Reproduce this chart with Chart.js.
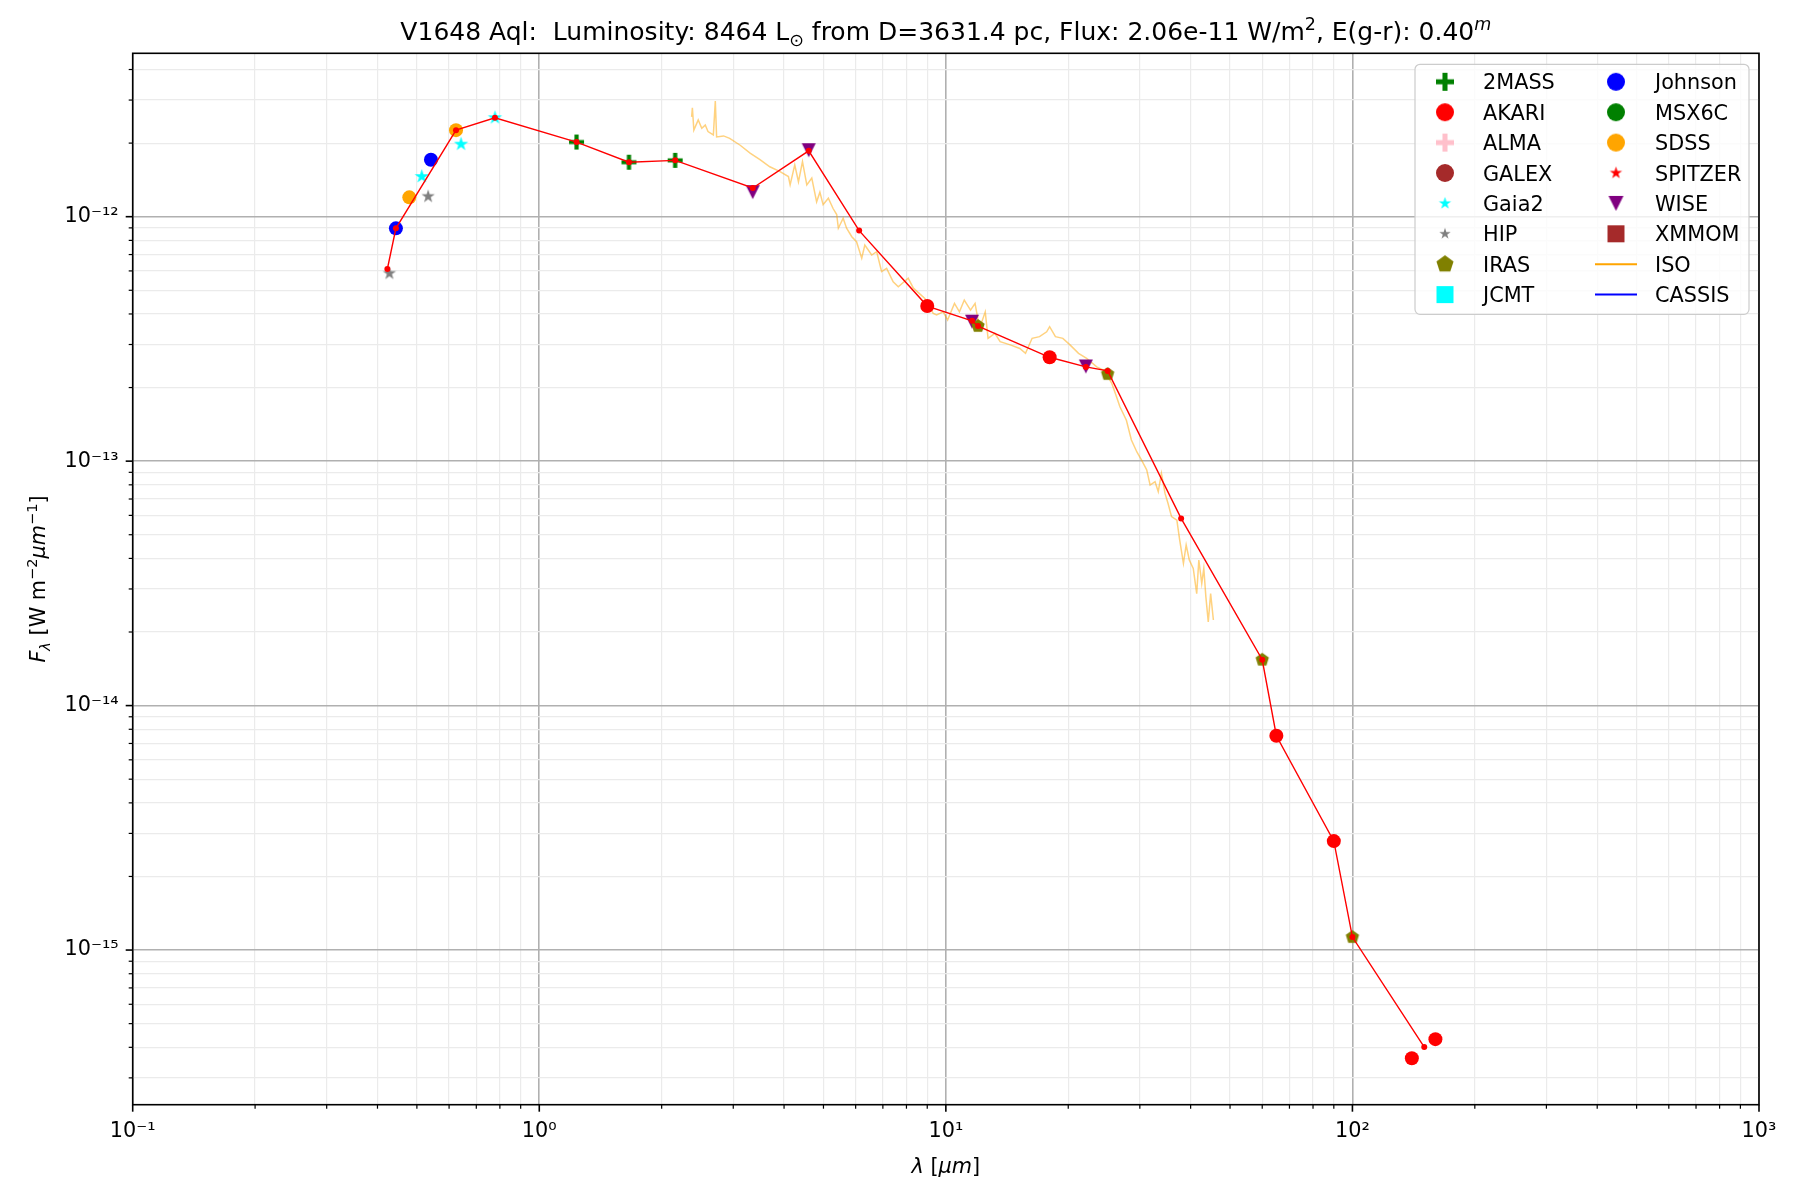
<!DOCTYPE html>
<html>
<head>
<meta charset="utf-8">
<title>V1648 Aql SED</title>
<script src="https://cdn.jsdelivr.net/npm/chart.js@4/dist/chart.umd.min.js"></script>
<style>
  body { margin: 0; background: #fff; }
  #wrap { width: 1800px; height: 1200px; }
</style>
</head>
<body>
<div id="wrap"><canvas id="sed" width="1800" height="1200"></canvas></div>
<script>
// wavelengths in micron, F_lambda in W m^-2 um^-1
const twomassWave = [1.235, 1.662, 2.159]
const twomassFlux = [2.02e-12, 1.67e-12, 1.70e-12]

const akariWave = [9.0, 18.0, 65, 90, 140, 160]
const akariFlux = [4.31e-13, 2.66e-13, 7.53e-15, 2.79e-15, 3.61e-16, 4.32e-16]

const johnsonWave = [0.444, 0.5415]
const johnsonFlux = [8.96e-13, 1.71e-12]

const sdssWave = [0.479, 0.624]
const sdssFlux = [1.20e-12, 2.26e-12]

const gaiaWave = [0.514, 0.642, 0.778]
const gaiaFlux = [1.46e-12, 1.98e-12, 2.54e-12]

const hipWave = [0.428, 0.533]
const hipFlux = [5.86e-13, 1.21e-12]

const irasWave = [12, 25, 60, 100]
const irasFlux = [3.57e-13, 2.27e-13, 1.54e-14, 1.13e-15]

const wiseWave = [3.35, 4.6, 11.6, 22.1]
const wiseFlux = [1.26e-12, 1.87e-12, 3.72e-13, 2.44e-13]

// red connecting line
const sedWave = [0.423, 0.444, 0.624, 0.778, 1.235, 1.662, 2.159, 3.35, 4.6, 6.12, 9.0, 11.6, 12.0,
                 18.0, 22.1, 25.0, 37.9, 60, 65, 90, 100, 150.2]
const sedFlux = [6.11e-13, 8.96e-13, 2.26e-12, 2.54e-12, 2.02e-12, 1.67e-12, 1.70e-12, 1.31e-12,
                 1.86e-12, 8.77e-13, 4.31e-13, 3.75e-13, 3.57e-13, 2.66e-13, 2.43e-13, 2.34e-13,
                 5.83e-14, 1.54e-14, 7.53e-15, 2.79e-15, 1.13e-15, 4.01e-16]

// ISO spectrum
const isoWave = [2.37, 2.38, 2.40, 2.46, 2.51, 2.56, 2.60, 2.68, 2.71, 2.73, 2.84, 2.94, 3.12, 3.30,
                 3.49, 3.69, 3.91, 4.10, 4.14, 4.25, 4.34, 4.44, 4.55, 4.68, 4.81, 4.90, 4.99, 5.14,
                 5.28, 5.39, 5.44, 5.59, 5.70, 5.87, 6.03, 6.21, 6.32, 6.57, 6.76, 6.95, 7.15, 7.42,
                 7.64, 8.08, 8.32, 8.88, 9.31, 9.49, 9.85, 10.1, 10.5, 10.8, 11.1, 11.5, 11.8, 12.1,
                 12.5, 12.7, 13.2, 13.6, 14.4, 15.2, 15.7, 16.3, 17.0, 17.7, 18.0, 18.6, 19.4, 20.2,
                 21.2, 22.2, 23.5, 24.4, 25.3, 25.6, 26.3, 26.8, 27.8, 28.6, 29.5, 30.3, 31.2, 31.8,
                 32.7, 33.3, 33.9, 34.6, 35.2, 35.9, 37.0, 37.6, 38.4, 39.0, 39.7, 40.6, 41.4, 41.9,
                 42.6, 43.1, 43.6, 44.2, 44.8, 45.5]
const isoFlux = [2.56e-12, 2.79e-12, 2.26e-12, 2.49e-12, 2.30e-12, 2.37e-12, 2.23e-12, 2.16e-12,
                 2.97e-12, 2.12e-12, 2.14e-12, 2.09e-12, 1.96e-12, 1.82e-12, 1.71e-12, 1.60e-12,
                 1.53e-12, 1.46e-12, 1.35e-12, 1.63e-12, 1.39e-12, 1.68e-12, 1.35e-12, 1.44e-12,
                 1.15e-12, 1.26e-12, 1.12e-12, 1.19e-12, 1.08e-12, 1.02e-12, 8.97e-13, 9.85e-13,
                 8.97e-13, 8.28e-13, 7.90e-13, 6.76e-13, 7.66e-13, 6.97e-13, 7.19e-13, 5.96e-13,
                 6.15e-13, 5.42e-13, 5.17e-13, 5.60e-13, 5.10e-13, 4.63e-13, 4.02e-13, 3.96e-13,
                 4.08e-13, 3.78e-13, 4.42e-13, 4.08e-13, 4.56e-13, 4.15e-13, 4.42e-13, 3.49e-13,
                 4.08e-13, 3.18e-13, 3.33e-13, 3.08e-13, 2.99e-13, 2.89e-13, 2.76e-13, 3.18e-13,
                 3.23e-13, 3.38e-13, 3.55e-13, 3.23e-13, 3.18e-13, 2.99e-13, 2.76e-13, 2.63e-13,
                 2.43e-13, 2.36e-13, 2.15e-13, 2.08e-13, 1.83e-13, 1.67e-13, 1.47e-13, 1.22e-13,
                 1.09e-13, 1.01e-13, 9.20e-14, 7.98e-14, 8.24e-14, 7.50e-14, 8.91e-14, 7.38e-14,
                 6.71e-14, 5.93e-14, 5.74e-14, 4.75e-14, 3.82e-14, 4.54e-14, 3.94e-14, 3.64e-14,
                 2.87e-14, 3.94e-14, 3.16e-14, 3.64e-14, 2.79e-14, 2.20e-14, 2.87e-14, 2.24e-14]

const xMajor = [0.1, 1, 10, 100, 1000]
const xTickLabels = ['10⁻¹', '10⁰', '10¹', '10²', '10³']
const yMajor = [1e-16, 1e-15, 1e-14, 1e-13, 1e-12]
const yTickLabels = ['10⁻¹⁶', '10⁻¹⁵', '10⁻¹⁴', '10⁻¹³', '10⁻¹²']

const xMin = 0.1, xMax = 1000
const yMin = 2.33e-16, yMax = 4.66e-12

const FONT = '"DejaVu Sans"'
const FS = 20.8

function pts(w, f) {
    return w.map((x, i) => ({x: x, y: f[i]}))
}

// filled marker shapes drawn on a small canvas, used as pointStyle
function marker(shape, s, color) {
    const c = document.createElement('canvas')
    const n = Math.ceil(s) + 4
    c.width = n
    c.height = n
    const g = c.getContext('2d')
    const r = s / 2
    g.fillStyle = color
    g.translate(n / 2, n / 2)
    g.beginPath()
    if (shape === 'plus') {
        const t = s * 0.14
        g.rect(-r, -t, s, 2 * t)
        g.rect(-t, -r, 2 * t, s)
    } else if (shape === 'star') {
        for (let i = 0; i < 10; i++) {
            const a = -Math.PI / 2 + i * Math.PI / 5
            const rr = i % 2 ? r * 0.382 : r
            g.lineTo(Math.cos(a) * rr, Math.sin(a) * rr)
        }
    } else if (shape === 'tridown') {
        g.moveTo(-r, -r)
        g.lineTo(r, -r)
        g.lineTo(0, r)
    } else if (shape === 'pentagon') {
        for (let i = 0; i < 5; i++) {
            const a = -Math.PI / 2 + i * 2 * Math.PI / 5
            g.lineTo(Math.cos(a) * r, Math.sin(a) * r)
        }
    } else if (shape === 'square') {
        g.rect(-r, -r, s, s)
    } else {
        g.arc(0, 0, r, 0, 2 * Math.PI)
    }
    g.closePath()
    g.fill()
    return c
}

function logTicks(major, lo, hi) {
    const out = []
    major.forEach(m => {
        for (let k = 1; k < 10; k++) {
            const v = m * k
            if (v >= lo * 0.999999 && v <= hi * 1.000001) out.push({value: v, major: k === 1})
        }
    })
    return out
}

function tickLabel(major, labels, v) {
    const i = major.findIndex(m => Math.abs(Math.log10(m / v)) < 1e-6)
    return i < 0 ? '' : labels[i]
}

function points(label, w, f, shape, size, color, legendSize) {
    const ds = {
        label: label,
        data: pts(w, f),
        backgroundColor: color,
        borderColor: color,
        pointBorderWidth: 0,
        pointRadius: size / 2,
        order: 1,
        legendMarker: marker(shape, legendSize, color)
    }
    ds.pointStyle = shape === 'circle' ? 'circle' : marker(shape, size, color)
    return ds
}

const datasets = [
    points('2MASS', twomassWave, twomassFlux, 'plus', 15, 'green', 18),
    points('AKARI', akariWave, akariFlux, 'circle', 14, 'red', 18),
    points('ALMA', [], [], 'plus', 15, 'pink', 18),
    points('GALEX', [], [], 'circle', 14, 'brown', 18),
    points('Gaia2', gaiaWave, gaiaFlux, 'star', 15, 'cyan', 13),
    points('HIP', hipWave, hipFlux, 'star', 14, 'grey', 12),
    points('IRAS', irasWave, irasFlux, 'pentagon', 14, 'olive', 18),
    points('JCMT', [], [], 'square', 14, 'cyan', 17),
    points('Johnson', johnsonWave, johnsonFlux, 'circle', 14, 'blue', 18),
    points('MSX6C', [], [], 'circle', 14, 'green', 18),
    points('SDSS', sdssWave, sdssFlux, 'circle', 14, 'orange', 18),
    points('SPITZER', [], [], 'star', 14, 'red', 13),
    points('WISE', wiseWave, wiseFlux, 'tridown', 14, 'purple', 15),
    points('XMMOM', [], [], 'square', 14, 'brown', 17),
    {label: 'ISO', data: pts(isoWave, isoFlux), showLine: true, borderColor: 'rgba(255,165,0,0.5)',
     borderWidth: 1.5, pointRadius: 0, order: 2, legendLine: 'orange'},
    {label: 'CASSIS', data: [], showLine: true, borderColor: 'blue', borderWidth: 1.5,
     pointRadius: 0, order: 2, legendLine: 'blue'},
    {label: '', data: pts(sedWave, sedFlux), showLine: true, borderColor: 'red', borderWidth: 1.4,
     backgroundColor: 'red', pointRadius: 3, pointBorderWidth: 0, order: 0}
]

// draws a string made of plain / sub / superscript / italic pieces
function rich(ctx, segs, x, y, size) {
    const parts = segs.map(s => {
        const fs = s.sup || s.sub ? size * 0.7 : size
        const font = (s.it ? 'italic ' : '') + fs + 'px ' + FONT
        ctx.font = font
        return {s: s, font: font, w: ctx.measureText(s.t).width}
    })
    let cx = x - parts.reduce((a, p) => a + p.w, 0) / 2
    parts.forEach(p => {
        ctx.font = p.font
        const dy = p.s.sup ? -size * 0.4 : p.s.sub ? size * 0.22 : 0
        ctx.fillText(p.s.t, cx, y + dy)
        cx += p.w
    })
}

const decor = {
    id: 'decor',
    afterDraw(chart) {
        const ctx = chart.ctx
        const a = chart.chartArea
        ctx.save()
        ctx.fillStyle = '#000'
        ctx.textAlign = 'left'
        ctx.textBaseline = 'alphabetic'

        // tick marks, bottom and left only
        ctx.strokeStyle = '#000'
        chart.scales.x.ticks.forEach(t => {
            const px = chart.scales.x.getPixelForValue(t.value)
            ctx.lineWidth = t.major ? 1.6 : 1.2
            ctx.beginPath()
            ctx.moveTo(px, a.bottom)
            ctx.lineTo(px, a.bottom + (t.major ? 7 : 4))
            ctx.stroke()
        })
        chart.scales.y.ticks.forEach(t => {
            const py = chart.scales.y.getPixelForValue(t.value)
            ctx.lineWidth = t.major ? 1.6 : 1.2
            ctx.beginPath()
            ctx.moveTo(a.left, py)
            ctx.lineTo(a.left - (t.major ? 7 : 4), py)
            ctx.stroke()
        })

        // spines
        ctx.lineWidth = 1.6
        ctx.strokeRect(a.left, a.top, a.right - a.left, a.bottom - a.top)

        // title
        const cx = (a.left + a.right) / 2
        rich(ctx, [
            {t: 'V1648 Aql:  Luminosity: 8464 L'}, {t: '⊙', sub: true},
            {t: ' from D=3631.4 pc, Flux: 2.06e-11 W/m'}, {t: '2', sup: true},
            {t: ', E(g-r): 0.40'}, {t: 'm', sup: true, it: true}
        ], cx, 40, 25)

        // axis labels
        rich(ctx, [{t: 'λ', it: true}, {t: ' ['}, {t: 'μm', it: true}, {t: ']'}], cx, 1173, FS)
        ctx.save()
        ctx.translate(45, (a.top + a.bottom) / 2)
        ctx.rotate(-Math.PI / 2)
        rich(ctx, [
            {t: 'F', it: true}, {t: 'λ', sub: true, it: true}, {t: ' [W m'}, {t: '−2', sup: true},
            {t: 'μm', it: true}, {t: '−1', sup: true}, {t: ']'}
        ], 0, 0, FS)
        ctx.restore()

        // legend, two columns
        const bw = 334, bh = 250
        const bx = a.right - 10 - bw, by = a.top + 11
        ctx.beginPath()
        const rr = 5
        ctx.moveTo(bx + rr, by)
        ctx.arcTo(bx + bw, by, bx + bw, by + bh, rr)
        ctx.arcTo(bx + bw, by + bh, bx, by + bh, rr)
        ctx.arcTo(bx, by + bh, bx, by, rr)
        ctx.arcTo(bx, by, bx + bw, by, rr)
        ctx.closePath()
        ctx.fillStyle = 'rgba(255,255,255,0.8)'
        ctx.fill()
        ctx.strokeStyle = '#cccccc'
        ctx.lineWidth = 1.2
        ctx.stroke()

        const items = chart.data.datasets.filter(d => d.label)
        ctx.font = FS + 'px ' + FONT
        items.forEach((d, i) => {
            const col = Math.floor(i / 8), row = i % 8
            const mx = bx + (col ? 201 : 30)
            const tx = bx + (col ? 240 : 68)
            const my = by + 17.5 + row * 30.4
            if (d.legendLine) {
                ctx.strokeStyle = d.legendLine
                ctx.lineWidth = 2
                ctx.beginPath()
                ctx.moveTo(mx - 21, my)
                ctx.lineTo(mx + 21, my)
                ctx.stroke()
            } else {
                const m = d.legendMarker
                ctx.drawImage(m, mx - m.width / 2, my - m.height / 2)
            }
            ctx.fillStyle = '#000'
            ctx.fillText(d.label, tx, my + 7.6)
        })
        ctx.restore()
    }
}

new Chart(document.getElementById('sed').getContext('2d'), {
    type: 'scatter',
    data: {datasets: datasets},
    plugins: [decor],
    options: {
        responsive: false,
        animation: false,
        devicePixelRatio: 1,
        events: [],
        layout: {padding: {left: 0, top: 53.3, right: 41, bottom: 0}},
        plugins: {legend: {display: false}, title: {display: false}, tooltip: {enabled: false}},
        scales: {
            x: {
                type: 'logarithmic',
                min: xMin,
                max: xMax,
                bounds: 'data',
                afterBuildTicks: s => { s.ticks = logTicks(xMajor, xMin, xMax) },
                afterFit: s => { s.height = 1200 - 1104.7 },
                border: {display: false},
                grid: {
                    color: c => c.tick && c.tick.major ? '#b0b0b0' : '#ebebeb',
                    lineWidth: c => c.tick && c.tick.major ? 1.6 : 1.2,
                    tickColor: 'rgba(0,0,0,0)',
                    tickLength: 7
                },
                ticks: {
                    autoSkip: false,
                    maxRotation: 0,
                    padding: 7,
                    color: '#000',
                    font: {family: FONT, size: FS},
                    callback: (v, i, t) => t[i].major ? tickLabel(xMajor, xTickLabels, v) : ''
                }
            },
            y: {
                type: 'logarithmic',
                min: yMin,
                max: yMax,
                bounds: 'data',
                afterBuildTicks: s => { s.ticks = logTicks(yMajor, yMin, yMax) },
                afterFit: s => { s.width = 132.7 },
                border: {display: false},
                grid: {
                    color: c => c.tick && c.tick.major ? '#b0b0b0' : '#ebebeb',
                    lineWidth: c => c.tick && c.tick.major ? 1.6 : 1.2,
                    tickColor: 'rgba(0,0,0,0)',
                    tickLength: 7
                },
                ticks: {
                    autoSkip: false,
                    padding: 7,
                    color: '#000',
                    font: {family: FONT, size: FS},
                    callback: (v, i, t) => t[i].major ? tickLabel(yMajor, yTickLabels, v) : ''
                }
            }
        }
    }
})
</script>
</body>
</html>
